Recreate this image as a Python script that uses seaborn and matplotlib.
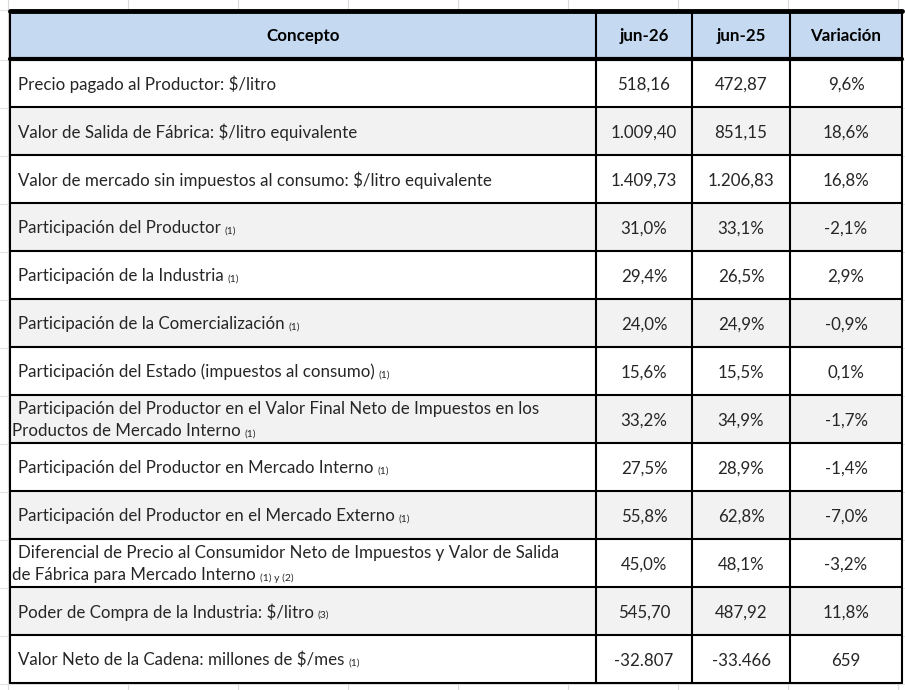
import matplotlib
matplotlib.use("Agg")
import matplotlib.pyplot as plt
import seaborn as sns

sns.set_theme(style="white")
plt.rcParams['font.family'] = ['Lato', 'DejaVu Sans']

header = ["Concepto", "jun-26", "jun-25", "Variación"]
concepts = [
    "Precio pagado al Productor: $/litro",
    "Valor de Salida de Fábrica: $/litro equivalente",
    "Valor de mercado sin impuestos al consumo: $/litro equivalente",
    "Participación del Productor",
    "Participación de la Industria",
    "Participación de la Comercialización",
    "Participación del Estado (impuestos al consumo)",
    "Participación del Productor en el Valor Final Neto de Impuestos en los\nProductos de Mercado Interno",
    "Participación del Productor en Mercado Interno",
    "Participación del Productor en el Mercado Externo",
    "Diferencial de Precio al Consumidor Neto de Impuestos y Valor de Salida\nde Fábrica para Mercado Interno",
    "Poder de Compra de la Industria: $/litro",
    "Valor Neto de la Cadena: millones de $/mes",
]
notes = ["", "", "", "(1)", "(1)", "(1)", "(1)", "(1)", "(1)", "(1)", "(1) y (2)", "(3)", "(1)"]
jun26 = ["518,16", "1.009,40", "1.409,73", "31,0%", "29,4%", "24,0%", "15,6%", "33,2%",
         "27,5%", "55,8%", "45,0%", "545,70", "-32.807"]
jun25 = ["472,87", "851,15", "1.206,83", "33,1%", "26,5%", "24,9%", "15,5%", "34,9%",
         "28,9%", "62,8%", "48,1%", "487,92", "-33.466"]
variacion = ["9,6%", "18,6%", "16,8%", "-2,1%", "2,9%", "-0,9%", "0,1%", "-1,7%",
             "-1,4%", "-7,0%", "-3,2%", "11,8%", "659"]

W, H = 905, 690
fig = plt.figure(figsize=(W / 100, H / 100), dpi=100)
ax = fig.add_axes([0, 0, 1, 1])
ax.set_xlim(0, W)
ax.set_ylim(H, 0)
ax.axis("off")

# faint spreadsheet grid in the background
for gx in [8, 128, 238, 348, 458, 568, 678, 788, 898]:
    ax.plot([gx, gx], [0, H], color="#d9d9d9", lw=0.8, zorder=0)
for gy in [10, 60, 108, 156, 204, 252, 300, 348, 396, 444, 492, 540, 588, 636, 684]:
    ax.plot([0, W], [gy, gy], color="#e3e3e3", lw=0.8, zorder=0)

cols = [10, 596, 692, 790, 902]
top, hdr_bot, rh = 11, 59, 48
nrows = len(concepts)
bottom = hdr_bot + rh * nrows

ax.add_patch(plt.Rectangle((cols[0], top), cols[-1] - cols[0], hdr_bot - top,
                           facecolor="#c5d9f1", edgecolor="none", zorder=1))
for i in range(nrows):
    y0 = hdr_bot + i * rh
    fc = "#f2f2f2" if i % 2 == 1 else "white"
    ax.add_patch(plt.Rectangle((cols[0], y0), cols[-1] - cols[0], rh,
                               facecolor=fc, edgecolor="none", zorder=1))

ax.plot([cols[0], cols[-1]], [top, top], color="black", lw=3.5, zorder=3)
ax.plot([cols[0], cols[-1]], [hdr_bot, hdr_bot], color="black", lw=3.0, zorder=3)
for i in range(1, nrows + 1):
    y = hdr_bot + i * rh
    ax.plot([cols[0], cols[-1]], [y, y], color="black", lw=1.5, zorder=3)
for cx in cols:
    ax.plot([cx, cx], [top, bottom], color="black", lw=1.5, zorder=3)

fs = 12.2
for j, h in enumerate(header):
    ax.text((cols[j] + cols[j + 1]) / 2, (top + hdr_bot) / 2 + 1, h, ha="center",
            va="center", fontsize=fs, fontweight="bold", color="black", zorder=4)

fig.canvas.draw()
renderer = fig.canvas.get_renderer()
inv = ax.transData.inverted()

for i in range(nrows):
    yc = hdr_bot + i * rh + rh / 2
    lines = concepts[i].split("\n")
    if len(lines) == 1:
        t = ax.text(18, yc + 1, lines[0], ha="left", va="center", fontsize=fs, zorder=4)
        last = t
    else:
        ax.text(18, yc - 10, lines[0], ha="left", va="center", fontsize=fs, zorder=4)
        last = ax.text(12, yc + 12, lines[1], ha="left", va="center", fontsize=fs, zorder=4)
    if notes[i]:
        bb = last.get_window_extent(renderer)
        xr = inv.transform((bb.x1, bb.y0))[0]
        ly = last.get_position()[1]
        ax.text(xr + 4, ly + 3, notes[i], ha="left", va="center", fontsize=7.5, zorder=4)
    for j, vals in enumerate([jun26, jun25, variacion]):
        ax.text((cols[j + 1] + cols[j + 2]) / 2, yc + 2, vals[i], ha="center",
                va="center", fontsize=fs, zorder=4)

fig.savefig("out.png", dpi=100, facecolor="white")
